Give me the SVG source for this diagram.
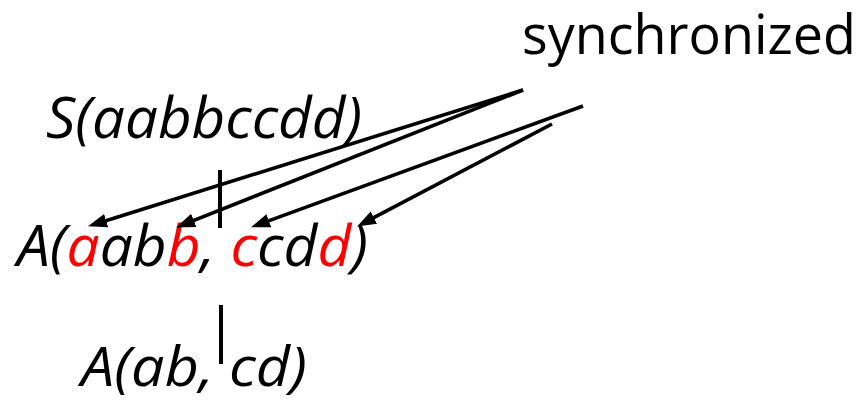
<svg xmlns="http://www.w3.org/2000/svg" width="866" height="401" viewBox="0 0 866 401">
<style>
.t{font-family:"Open Sans","Noto Sans",sans-serif;font-size:56px;fill:#000}
.s{font-size:54px}
.i{font-style:italic}
.r{fill:#FF0000}
.c{stroke:#000;stroke-width:3.6;fill:none}
.bar{stroke:#000;stroke-width:4}
</style>
<defs>
<marker id="ah" markerUnits="userSpaceOnUse" markerWidth="20" markerHeight="16" refX="12" refY="7" orient="auto">
<path d="M0,0 L19,7 L0,14 Z" fill="#000"/>
</marker>
</defs>
<g id="label-synchronized">
<text class="t s" x="522" y="54" textLength="334" lengthAdjust="spacingAndGlyphs">synchronized</text>
</g>
<g id="node-S">
<text class="t i" x="46" y="138" textLength="316" lengthAdjust="spacingAndGlyphs">S(aabbccdd)</text>
</g>
<g id="node-A1">
<text class="t i" x="17" y="266" textLength="351" lengthAdjust="spacingAndGlyphs">A(<tspan class="r">a</tspan>ab<tspan class="r">b</tspan>, <tspan class="r">c</tspan>cd<tspan class="r">d</tspan>)</text>
</g>
<g id="node-A2">
<text class="t i s" x="81" y="386" textLength="226" lengthAdjust="spacingAndGlyphs">A(ab, cd)</text>
</g>
<g id="connectors">
<line class="c" x1="523" y1="90" x2="94.7" y2="224.2" marker-end="url(#ah)"/>
<line class="c" x1="523" y1="90" x2="182.6" y2="224.8" marker-end="url(#ah)"/>
<line class="c" x1="583" y1="106" x2="257.6" y2="224.9" marker-end="url(#ah)"/>
<line class="c" x1="552" y1="124" x2="363.3" y2="223.2" marker-end="url(#ah)"/>
<line class="bar" x1="220" y1="170" x2="220" y2="228"/>
<line class="bar" x1="221" y1="305" x2="221" y2="364"/>
</g>
</svg>
